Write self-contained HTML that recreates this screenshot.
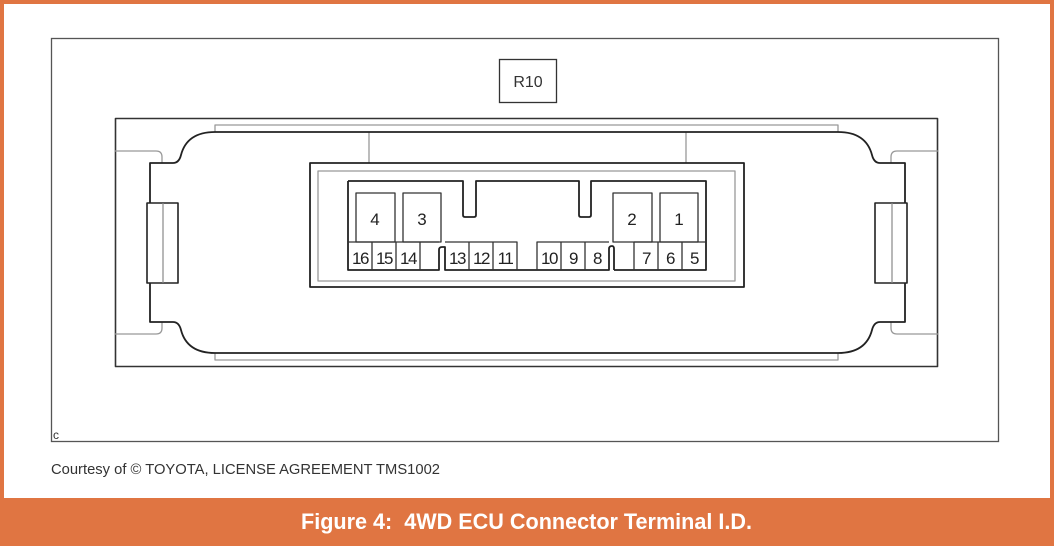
<!DOCTYPE html>
<html><head><style>
html,body{margin:0;padding:0;}
body{width:1054px;height:546px;overflow:hidden;background:#fff;}
</style></head><body>
<svg width="1054" height="546" viewBox="0 0 1054 546" xmlns="http://www.w3.org/2000/svg" font-family="Liberation Sans, sans-serif">
<rect x="0" y="0" width="1054" height="546" fill="#e07542"/>
<rect x="4" y="4" width="1046" height="494" fill="#fff"/>
<rect x="51.5" y="38.5" width="947" height="403" fill="none" stroke="#555" stroke-width="1.3"/>
<text x="53" y="439" font-size="12" fill="#333">c</text>
<text x="51" y="474" font-size="14.5" fill="#333" textLength="389" lengthAdjust="spacingAndGlyphs">Courtesy of © TOYOTA, LICENSE AGREEMENT TMS1002</text>
<text x="301" y="529" font-size="22" font-weight="bold" fill="#fff" textLength="451" lengthAdjust="spacingAndGlyphs" xml:space="preserve">Figure 4:  4WD ECU Connector Terminal I.D.</text>
<rect x="499.5" y="59.5" width="57" height="43" fill="none" stroke="#333" stroke-width="1.3"/>
<text x="528" y="87" font-size="16" fill="#333" text-anchor="middle">R10</text>
<g fill="none" stroke-linejoin="round">
<rect x="115.5" y="118.5" width="822" height="248" stroke="#333" stroke-width="1.6"/>
<path d="M215 132 V125 H838 V132 M215 353 V360 H838 V353" stroke="#999" stroke-width="1.3"/>
<path d="M115 151 H156 Q162 151 162 157 V163 M115 334 H156 Q162 334 162 328 V322" stroke="#999" stroke-width="1.3"/>
<path d="M938 151 H897 Q891 151 891 157 V163 M938 334 H897 Q891 334 891 328 V322" stroke="#999" stroke-width="1.3"/>
<path d="M369 132 V163 M686 132 V163" stroke="#999" stroke-width="1.3"/>
<path d="M215 132 H838 Q866 132 872 155 Q874 163 880 163 H905 V322 H880 Q874 322 872 330 Q866 353 838 353 H215 Q187 353 181 330 Q179 322 173 322 H150 V163 H173 Q179 163 181 155 Q187 132 215 132 Z" stroke="#222" stroke-width="1.8"/>
<rect x="147" y="203" width="31" height="80" fill="#fff" stroke="#222" stroke-width="1.6"/>
<path d="M163 203 V283" stroke="#888" stroke-width="1.2"/>
<rect x="875" y="203" width="32" height="80" fill="#fff" stroke="#222" stroke-width="1.6"/>
<path d="M892 203 V283" stroke="#888" stroke-width="1.2"/>
<rect x="310" y="163" width="434" height="124" stroke="#222" stroke-width="1.8"/>
<rect x="318" y="171" width="417" height="110" stroke="#999" stroke-width="1.3"/>
<path d="M348 181 H463 V215 Q463 217 465 217 H474 Q476 217 476 215 V181 H579 V215 Q579 217 581 217 H589 Q591 217 591 215 V181 H706 V270 H614 M348 181 V270 H439 V250 Q439 247 442 247 H445 V270 H609 V249 Q609 246 612 246 Q614 246 614 249 V270" stroke="#222" stroke-width="1.8"/>
<g stroke="#333" stroke-width="1.3">
<rect x="356" y="193" width="39" height="49"/>
<rect x="403" y="193" width="38" height="49"/>
<rect x="613" y="193" width="39" height="49"/>
<rect x="660" y="193" width="38" height="49"/>
<path d="M348 242 H439 M372 242 V270 M396 242 V270 M420 242 V270 M445 242 H517 V270 M469 242 V270 M493 242 V270 M537 270 V242 H609 M561 242 V270 M585 242 V270 M634 242 H706 M658 242 V270 M682 242 V270 M634 242 V270"/>
</g>
</g>
<g font-size="17" fill="#222" text-anchor="middle">
<text x="375" y="225">4</text><text x="422" y="225">3</text>
<text x="632" y="225">2</text><text x="679" y="225">1</text>
</g>
<g font-size="17" fill="#222" text-anchor="middle" letter-spacing="-1.5">
<text x="360" y="264">16</text><text x="384" y="264">15</text><text x="408" y="264">14</text>
<text x="457" y="264">13</text><text x="481" y="264">12</text><text x="505" y="264">11</text>
<text x="549" y="264">10</text><text x="573" y="264">9</text><text x="597" y="264">8</text>
<text x="646" y="264">7</text><text x="670" y="264">6</text><text x="694" y="264">5</text>
</g>
</svg>
</body></html>
